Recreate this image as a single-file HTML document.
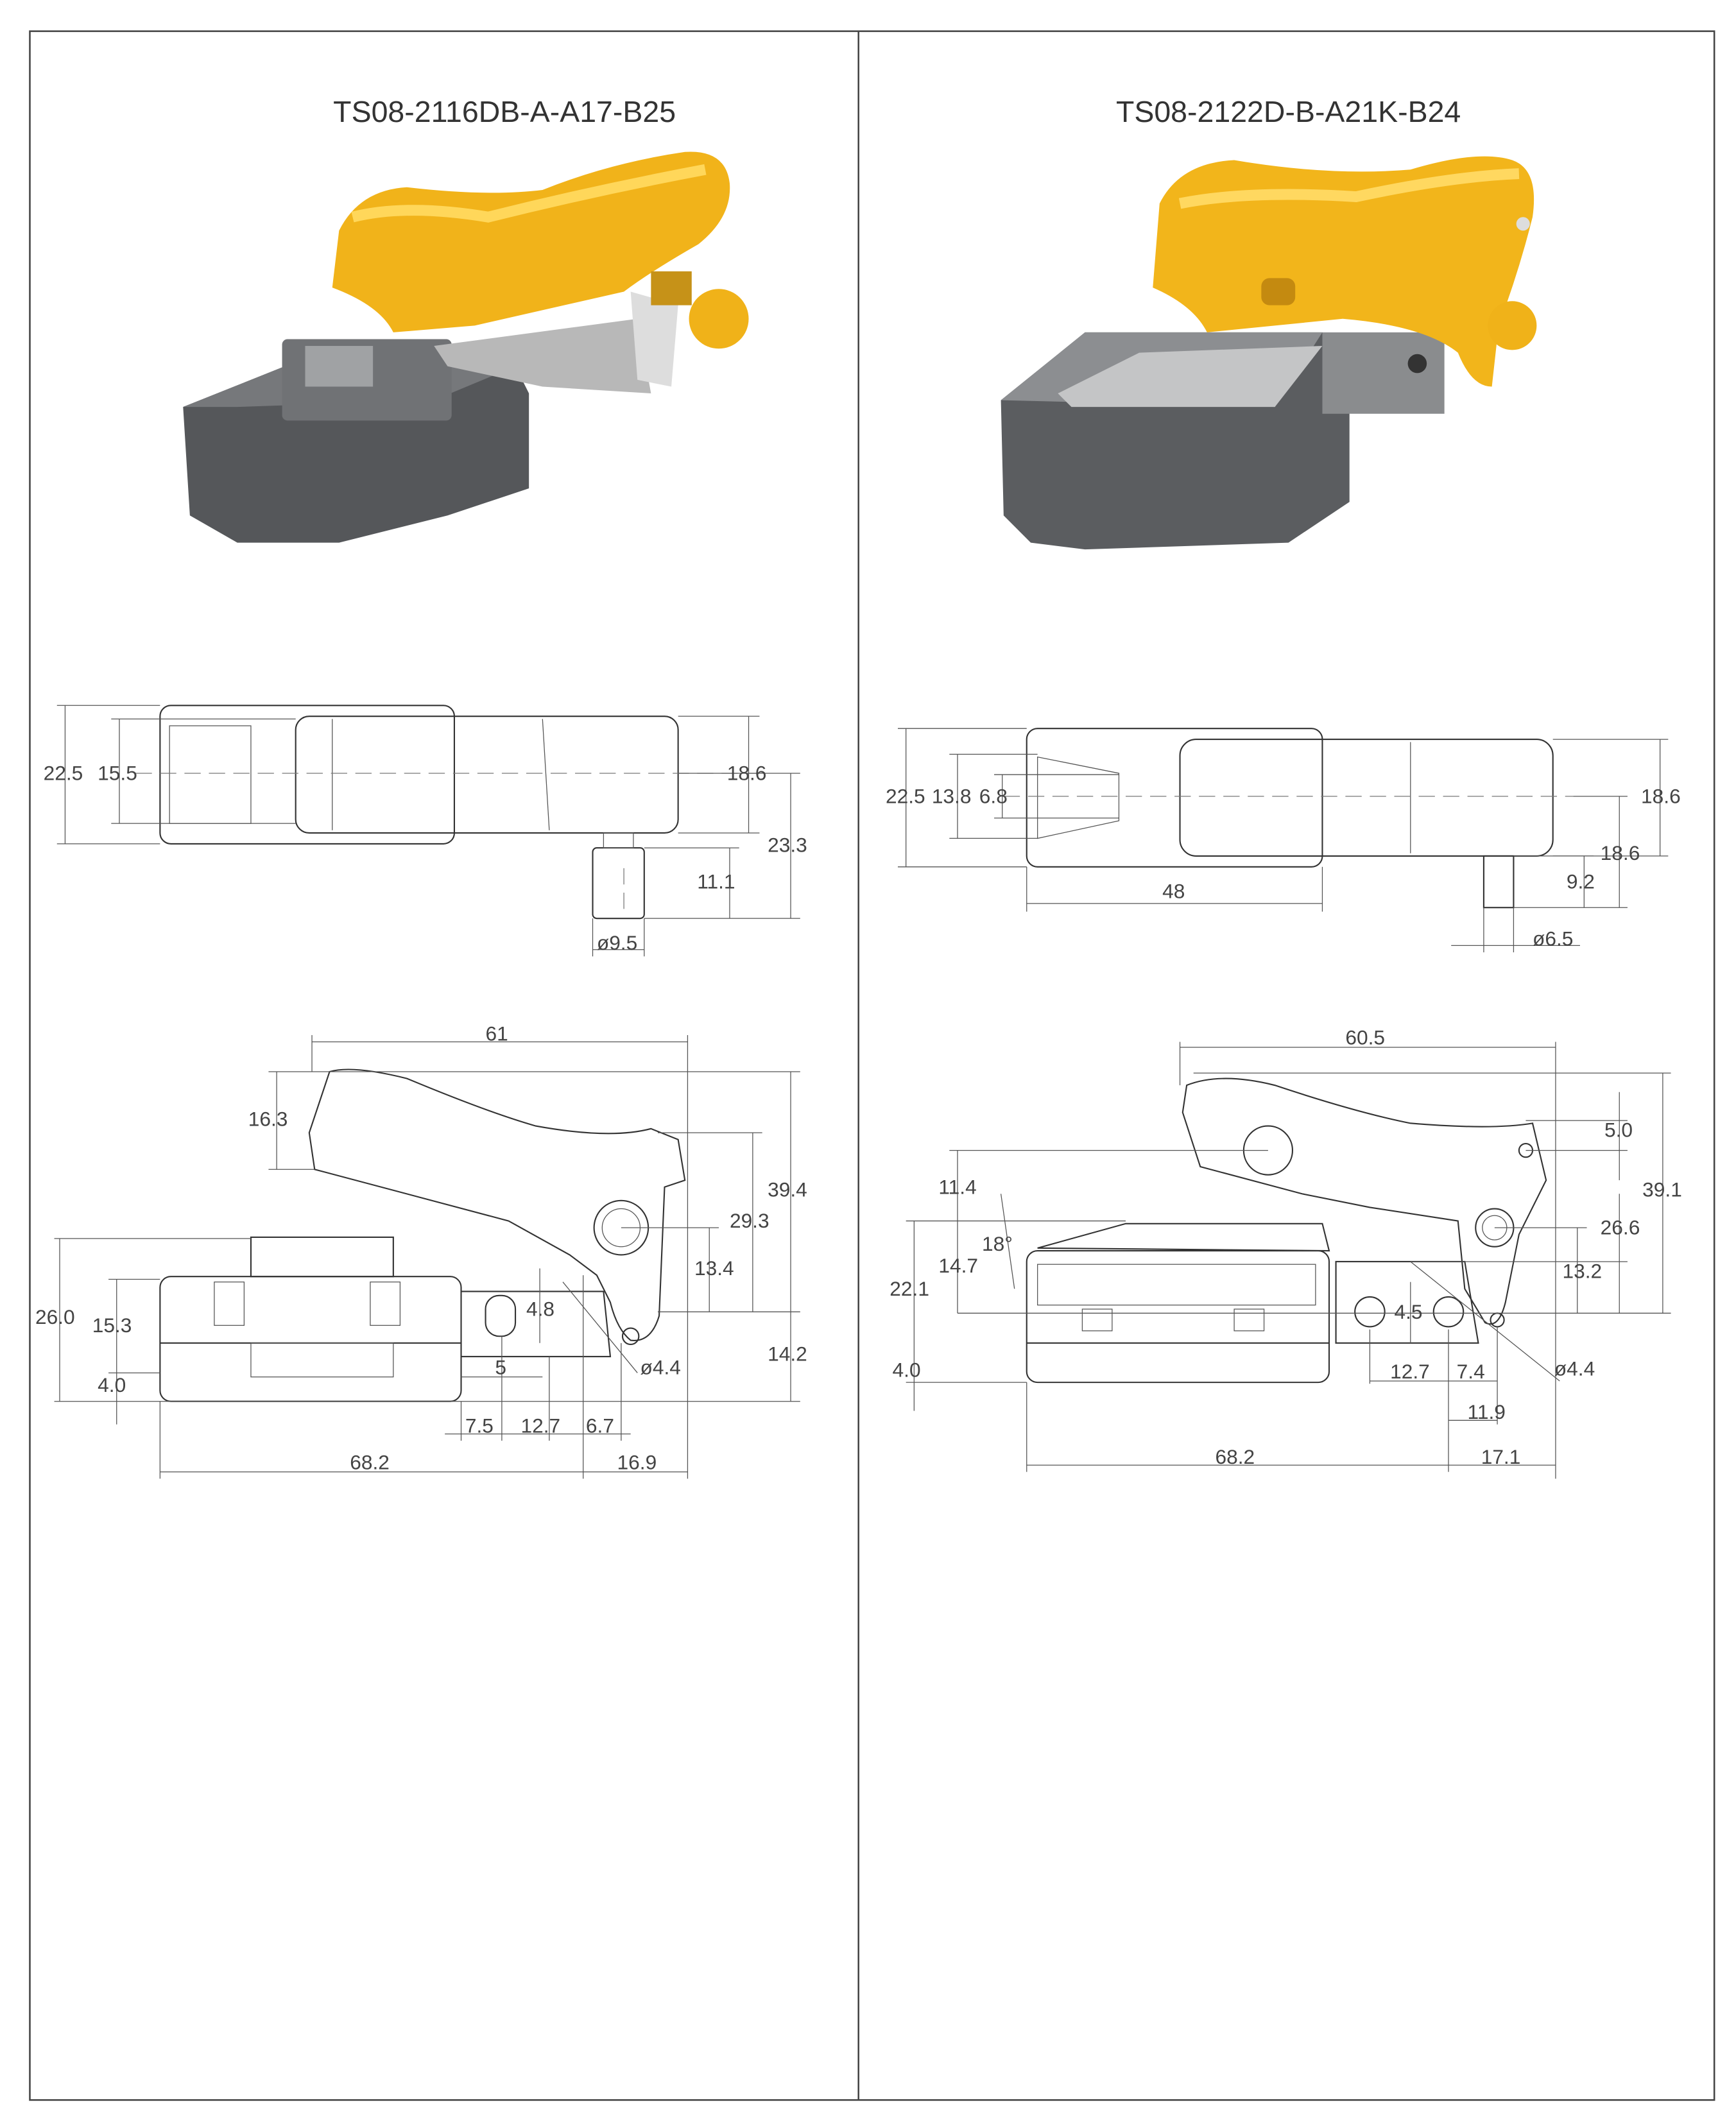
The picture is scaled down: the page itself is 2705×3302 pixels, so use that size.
<!DOCTYPE html>
<html><head><style>
html,body{margin:0;padding:0;background:#fff}
svg{display:block}
text{font-family:"Liberation Sans",sans-serif;fill:#333}
.d{font-size:15px;fill:#444}
.l{stroke:#333;stroke-width:1;fill:none}
.t{stroke:#555;stroke-width:0.6;fill:none}
.c{stroke:#777;stroke-width:0.6;fill:none;stroke-dasharray:12 6}
</style></head><body>
<svg width="2705" height="3302" viewBox="0 0 1280 1562" preserveAspectRatio="none">
<rect x="0" y="0" width="1280" height="1562" fill="#fff"/>
<rect x="22" y="23" width="1242" height="1525" fill="none" stroke="#444" stroke-width="1.2"/>
<line x1="633" y1="23" x2="633" y2="1548" stroke="#444" stroke-width="1.2"/>
<text x="372" y="90" font-size="22" text-anchor="middle">TS08-2116DB-A-A17-B25</text>
<text x="950" y="90" font-size="22" text-anchor="middle">TS08-2122D-B-A21K-B24</text>

<!-- LEFT product image -->
<polygon points="135,300 210,270 380,270 390,290 390,360 330,380 250,400 175,400 140,380" fill="#55575a"/>
<polygon points="135,300 210,270 380,270 320,295 175,300" fill="#76787b"/>
<rect x="208" y="250" width="125" height="60" rx="4" fill="#707275"/>
<rect x="225" y="255" width="50" height="30" fill="#a0a2a4"/>
<polygon points="320,255 470,235 480,290 400,285 330,270" fill="#b8b8b8"/>
<polygon points="465,215 500,225 495,285 470,280" fill="#ddd"/>
<path d="M250,170 Q265,140 300,138 Q360,145 400,140 Q450,120 505,112 Q535,110 538,135 Q540,160 515,180 Q480,200 460,215 L350,240 L290,245 Q280,225 245,212 Z" fill="#f1b31a"/>
<path d="M260,160 Q300,150 360,160 Q440,140 520,125" stroke="#ffd75a" stroke-width="8" fill="none"/>
<circle cx="530" cy="235" r="22" fill="#f0b219"/>
<rect x="480" y="200" width="30" height="25" fill="#c69218"/>

<!-- RIGHT product image -->
<polygon points="738,295 800,245 975,245 995,265 995,370 950,400 800,405 760,400 740,380" fill="#5b5d60"/>
<polygon points="738,295 800,245 975,245 940,300" fill="#8c8e91"/>
<polygon points="780,290 840,260 975,255 940,300 790,300" fill="#c4c5c6"/>
<rect x="975" y="245" width="90" height="60" fill="#8a8c8e"/>
<circle cx="1045" cy="268" r="7" fill="#333"/>
<path d="M855,150 Q870,120 910,118 Q980,130 1040,125 Q1090,110 1115,118 Q1135,125 1130,160 Q1120,200 1105,240 L1100,285 Q1085,285 1075,260 Q1050,240 990,235 L890,245 Q880,225 850,212 Z" fill="#f2b51b"/>
<path d="M870,150 Q920,140 1000,145 Q1070,130 1120,128" stroke="#ffd860" stroke-width="8" fill="none"/>
<rect x="930" y="205" width="25" height="20" rx="6" fill="#c48a10"/>
<circle cx="1115" cy="240" r="18" fill="#f0b219"/>
<circle cx="1123" cy="165" r="5" fill="#ddd"/>

<!-- LEFT top view -->
<rect x="118" y="520" width="217" height="102" rx="8" class="l"/>
<rect x="125" y="535" width="60" height="72" class="t"/>
<rect x="218" y="528" width="282" height="86" rx="10" class="l"/>
<line x1="400" y1="530" x2="405" y2="612" class="t"/>
<line x1="245" y1="530" x2="245" y2="612" class="t"/>
<rect x="437" y="625" width="38" height="52" rx="3" class="l"/>
<rect x="445" y="614" width="22" height="11" class="t"/>
<line x1="100" y1="570" x2="560" y2="570" class="c"/>
<line x1="460" y1="640" x2="460" y2="670" class="c"/>
<g class="t">
<line x1="42" y1="520" x2="118" y2="520"/><line x1="42" y1="622" x2="118" y2="622"/>
<line x1="48" y1="520" x2="48" y2="622"/>
<line x1="82" y1="530" x2="218" y2="530"/><line x1="82" y1="607" x2="218" y2="607"/>
<line x1="88" y1="530" x2="88" y2="607"/>
<line x1="500" y1="528" x2="560" y2="528"/><line x1="500" y1="614" x2="560" y2="614"/>
<line x1="552" y1="528" x2="552" y2="614"/>
<line x1="500" y1="570" x2="590" y2="570"/><line x1="475" y1="677" x2="590" y2="677"/>
<line x1="583" y1="570" x2="583" y2="677"/>
<line x1="475" y1="625" x2="545" y2="625"/><line x1="538" y1="625" x2="538" y2="677"/>
<line x1="437" y1="677" x2="437" y2="705"/><line x1="475" y1="677" x2="475" y2="705"/>
<line x1="437" y1="700" x2="475" y2="700"/>
</g>
<text class="d" x="32" y="575">22.5</text><text class="d" x="72" y="575">15.5</text>
<text class="d" x="536" y="575">18.6</text><text class="d" x="566" y="628">23.3</text>
<text class="d" x="514" y="655">11.1</text><text class="d" x="440" y="700">ø9.5</text>

<!-- RIGHT top view -->
<rect x="757" y="537" width="218" height="102" rx="8" class="l"/>
<polygon points="765,558 825,570 825,605 765,618" class="t"/>
<rect x="870" y="545" width="275" height="86" rx="12" class="l"/>
<line x1="1040" y1="547" x2="1040" y2="629" class="t"/>
<rect x="1094" y="631" width="22" height="38" class="l"/>
<line x1="740" y1="587" x2="1160" y2="587" class="c"/>
<g class="t">
<line x1="662" y1="537" x2="757" y2="537"/><line x1="662" y1="639" x2="757" y2="639"/>
<line x1="668" y1="537" x2="668" y2="639"/>
<line x1="700" y1="556" x2="765" y2="556"/><line x1="700" y1="618" x2="765" y2="618"/>
<line x1="706" y1="556" x2="706" y2="618"/>
<line x1="733" y1="571" x2="825" y2="571"/><line x1="733" y1="603" x2="825" y2="603"/>
<line x1="739" y1="571" x2="739" y2="603"/>
<line x1="757" y1="639" x2="757" y2="672"/><line x1="975" y1="639" x2="975" y2="672"/>
<line x1="757" y1="666" x2="975" y2="666"/>
<line x1="1145" y1="545" x2="1230" y2="545"/><line x1="1145" y1="631" x2="1230" y2="631"/>
<line x1="1224" y1="545" x2="1224" y2="631"/>
<line x1="1160" y1="587" x2="1200" y2="587"/><line x1="1116" y1="669" x2="1200" y2="669"/>
<line x1="1194" y1="587" x2="1194" y2="669"/>
<line x1="1116" y1="631" x2="1175" y2="631"/><line x1="1168" y1="631" x2="1168" y2="669"/>
<line x1="1094" y1="669" x2="1094" y2="702"/><line x1="1116" y1="669" x2="1116" y2="702"/>
<line x1="1070" y1="697" x2="1165" y2="697"/>
</g>
<text class="d" x="653" y="592">22.5</text><text class="d" x="687" y="592">13.8</text><text class="d" x="722" y="592">6.8</text>
<text class="d" x="1210" y="592">18.6</text><text class="d" x="1180" y="634">18.6</text>
<text class="d" x="1155" y="655">9.2</text><text class="d" x="857" y="662">48</text>
<text class="d" x="1130" y="697">ø6.5</text>

<!-- LEFT side view -->
<rect x="118" y="941" width="222" height="92" rx="8" class="l"/>
<line x1="118" y1="990" x2="340" y2="990" class="l"/>
<rect x="185" y="912" width="105" height="29" class="l"/>
<rect x="158" y="945" width="22" height="32" class="t"/><rect x="273" y="945" width="22" height="32" class="t"/>
<rect x="185" y="990" width="105" height="25" class="t"/>
<path d="M340,952 L445,952 L450,1000 L340,1000" class="l"/>
<rect x="358" y="955" width="22" height="30" rx="10" class="l"/>
<path d="M243,790 Q260,785 300,795 Q360,820 395,830 Q450,840 480,832 L500,840 L505,870 L490,875 L486,970 Q480,990 465,988 Q455,980 450,960 L440,940 L420,925 L375,900 L232,862 L228,835 Z" class="l"/>
<circle cx="458" cy="905" r="20" class="l"/><circle cx="458" cy="905" r="14" class="t"/>
<circle cx="465" cy="985" r="6" class="l"/>
<g class="t">
<line x1="230" y1="763" x2="230" y2="790"/><line x1="507" y1="763" x2="507" y2="1090"/>
<line x1="230" y1="768" x2="507" y2="768"/>
<line x1="198" y1="790" x2="590" y2="790"/><line x1="198" y1="862" x2="232" y2="862"/>
<line x1="204" y1="790" x2="204" y2="862"/>
<line x1="485" y1="835" x2="562" y2="835"/><line x1="555" y1="835" x2="555" y2="967"/>
<line x1="485" y1="967" x2="590" y2="967"/><line x1="583" y1="790" x2="583" y2="1033"/>
<line x1="458" y1="905" x2="530" y2="905"/><line x1="523" y1="905" x2="523" y2="967"/>
<line x1="40" y1="913" x2="185" y2="913"/><line x1="40" y1="1033" x2="590" y2="1033"/>
<line x1="44" y1="913" x2="44" y2="1033"/>
<line x1="80" y1="943" x2="118" y2="943"/><line x1="86" y1="943" x2="86" y2="1050"/>
<line x1="80" y1="1012" x2="118" y2="1012"/>
<line x1="398" y1="935" x2="398" y2="990"/>
<line x1="340" y1="1015" x2="400" y2="1015"/>
<line x1="118" y1="1033" x2="118" y2="1090"/><line x1="430" y1="940" x2="430" y2="1090"/>
<line x1="118" y1="1085" x2="507" y2="1085"/>
<line x1="340" y1="1033" x2="340" y2="1062"/><line x1="370" y1="985" x2="370" y2="1062"/>
<line x1="405" y1="1000" x2="405" y2="1062"/><line x1="458" y1="990" x2="458" y2="1062"/>
<line x1="328" y1="1057" x2="465" y2="1057"/>
<line x1="415" y1="945" x2="470" y2="1012"/>
</g>
<text class="d" x="358" y="767">61</text><text class="d" x="183" y="830">16.3</text>
<text class="d" x="566" y="882">39.4</text><text class="d" x="538" y="905">29.3</text>
<text class="d" x="512" y="940">13.4</text><text class="d" x="388" y="970">4.8</text>
<text class="d" x="566" y="1003">14.2</text><text class="d" x="472" y="1013">ø4.4</text>
<text class="d" x="26" y="976">26.0</text><text class="d" x="68" y="982">15.3</text>
<text class="d" x="72" y="1026">4.0</text><text class="d" x="365" y="1013">5</text>
<text class="d" x="343" y="1056">7.5</text><text class="d" x="384" y="1056">12.7</text>
<text class="d" x="432" y="1056">6.7</text><text class="d" x="258" y="1083">68.2</text>
<text class="d" x="455" y="1083" font-size="13">16.9</text>

<!-- RIGHT side view -->
<rect x="757" y="922" width="223" height="97" rx="8" class="l"/>
<line x1="757" y1="990" x2="980" y2="990" class="l"/>
<rect x="765" y="932" width="205" height="30" class="t"/>
<rect x="798" y="965" width="22" height="16" class="t"/><rect x="910" y="965" width="22" height="16" class="t"/>
<polygon points="765,920 830,902 975,902 980,922" class="l"/>
<path d="M985,930 L1080,930 L1090,990 L985,990 Z" class="l"/>
<circle cx="1010" cy="967" r="11" class="l"/><circle cx="1068" cy="967" r="11" class="l"/>
<path d="M875,800 Q900,790 940,800 Q1000,820 1040,828 Q1100,833 1130,828 L1140,870 L1120,910 L1110,960 Q1105,980 1095,975 L1080,950 L1075,900 L1010,890 L960,880 L885,860 L872,820 Z" class="l"/>
<circle cx="935" cy="848" r="18" class="l"/>
<circle cx="1102" cy="905" r="14" class="l"/><circle cx="1102" cy="905" r="9" class="t"/>
<circle cx="1125" cy="848" r="5" class="l"/><circle cx="1104" cy="973" r="5" class="l"/>
<g class="t">
<line x1="870" y1="768" x2="870" y2="800"/><line x1="1147" y1="768" x2="1147" y2="1090"/>
<line x1="870" y1="772" x2="1147" y2="772"/>
<line x1="880" y1="791" x2="1232" y2="791"/><line x1="1226" y1="791" x2="1226" y2="968"/>
<line x1="1125" y1="826" x2="1200" y2="826"/><line x1="1125" y1="848" x2="1200" y2="848"/>
<line x1="1194" y1="805" x2="1194" y2="870"/>
<line x1="1102" y1="905" x2="1170" y2="905"/><line x1="1163" y1="905" x2="1163" y2="968"/>
<line x1="1040" y1="930" x2="1200" y2="930"/><line x1="1194" y1="880" x2="1194" y2="968"/>
<line x1="700" y1="848" x2="935" y2="848"/><line x1="706" y1="848" x2="706" y2="968"/>
<line x1="668" y1="900" x2="830" y2="900"/><line x1="674" y1="900" x2="674" y2="1040"/>
<line x1="706" y1="968" x2="1232" y2="968"/>
<line x1="668" y1="1019" x2="757" y2="1019"/>
<line x1="738" y1="880" x2="748" y2="950"/>
<line x1="757" y1="1019" x2="757" y2="1085"/>
<line x1="757" y1="1080" x2="1147" y2="1080"/>
<line x1="1068" y1="980" x2="1068" y2="1085"/><line x1="1010" y1="980" x2="1010" y2="1020"/>
<line x1="1104" y1="978" x2="1104" y2="1050"/>
<line x1="1010" y1="1018" x2="1104" y2="1018"/>
<line x1="1068" y1="1047" x2="1104" y2="1047"/>
<line x1="1040" y1="945" x2="1040" y2="990"/>
<line x1="1040" y1="930" x2="1150" y2="1018"/>
</g>
<text class="d" x="992" y="770">60.5</text><text class="d" x="1183" y="838">5.0</text>
<text class="d" x="1211" y="882">39.1</text><text class="d" x="1180" y="910">26.6</text>
<text class="d" x="1152" y="942">13.2</text><text class="d" x="692" y="880">11.4</text>
<text class="d" x="724" y="922">18°</text><text class="d" x="692" y="938">14.7</text>
<text class="d" x="656" y="955">22.1</text><text class="d" x="658" y="1015">4.0</text>
<text class="d" x="1028" y="972">4.5</text><text class="d" x="1146" y="1014">ø4.4</text>
<text class="d" x="1025" y="1016">12.7</text><text class="d" x="1074" y="1016">7.4</text>
<text class="d" x="1082" y="1046">11.9</text><text class="d" x="896" y="1079">68.2</text>
<text class="d" x="1092" y="1079">17.1</text>
</svg>
</body></html>
